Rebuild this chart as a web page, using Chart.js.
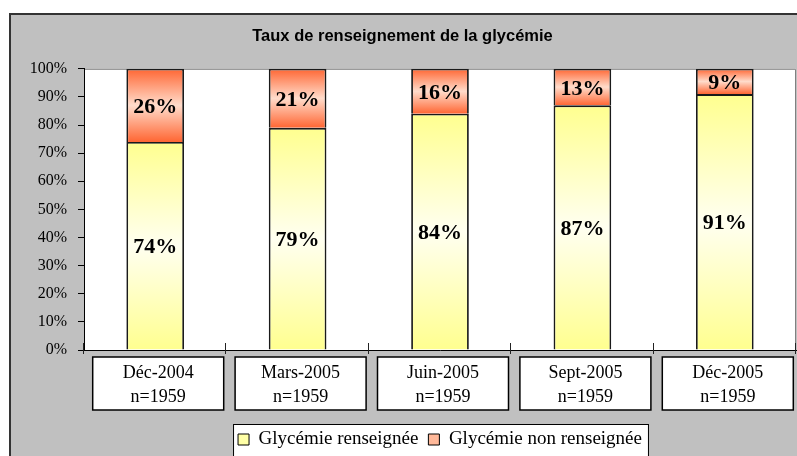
<!DOCTYPE html>
<html>
<head>
<meta charset="utf-8">
<script src="https://cdn.jsdelivr.net/npm/chart.js@4.4.1/dist/chart.umd.min.js"></script>
<style>
  html, body { margin: 0; padding: 0; background: #fff; }
  canvas { display: block; }
</style>
</head>
<body>
<canvas id="myChart" width="797" height="456"></canvas>
<script>
const titleText = 'Taux de renseignement de la glycémie';
const periods = ['Déc-2004', 'Mars-2005', 'Juin-2005', 'Sept-2005', 'Déc-2005'];
const sampleSizes = ['n=1959', 'n=1959', 'n=1959', 'n=1959', 'n=1959'];
const renseignee = [74, 79, 84, 87, 91];
const nonRenseignee = [26, 21, 16, 13, 9];
const yTickLabels = ['0%', '10%', '20%', '30%', '40%', '50%', '60%', '70%', '80%', '90%', '100%'];
const legendColors = ['#ffffa6', '#ffb899'];

// gradient per bar segment: edge colour at top and bottom, light in the middle
function segmentFill(edge, middle, legendColor) {
    return (ctx) => {
        if (ctx.type !== 'data') return legendColor;
        const chart = ctx.chart;
        const y = chart.scales.y;
        if (!chart.chartArea || !y) return legendColor;
        const i = ctx.dataIndex;
        let start = 0;
        for (let d = 0; d < ctx.datasetIndex; d++) start += chart.data.datasets[d].data[i];
        const end = start + chart.data.datasets[ctx.datasetIndex].data[i];
        const top = y.getPixelForValue(end);
        const bottom = y.getPixelForValue(start);
        if (!isFinite(top) || !isFinite(bottom)) return legendColor;
        const g = chart.ctx.createLinearGradient(0, top, 0, bottom);
        g.addColorStop(0, edge);
        g.addColorStop(0.5, middle);
        g.addColorStop(1, edge);
        return g;
    };
}

const frame = {
    id: 'frame',
    beforeDraw(chart) {
        const { ctx, chartArea: a, width, height } = chart;
        ctx.save();
        ctx.fillStyle = '#fff';
        ctx.fillRect(0, 0, width, height);
        ctx.fillStyle = '#c0c0c0';
        ctx.fillRect(9, 13, width - 9, height - 13);
        ctx.strokeStyle = '#333';
        ctx.lineWidth = 2;
        ctx.beginPath();
        ctx.moveTo(10, height);
        ctx.lineTo(10, 14);
        ctx.lineTo(width, 14);
        ctx.stroke();

        // plot area
        ctx.fillStyle = '#fff';
        ctx.fillRect(a.left, a.top, a.width, a.height);
        ctx.strokeStyle = '#808080';
        ctx.lineWidth = 1;
        ctx.beginPath();
        ctx.moveTo(a.left, a.top + 0.5);
        ctx.lineTo(a.right - 0.5, a.top + 0.5);
        ctx.lineTo(a.right - 0.5, a.bottom);
        ctx.stroke();

        // boxes behind the category labels
        const x = chart.scales.x;
        ctx.strokeStyle = '#000';
        ctx.lineWidth = 1.5;
        x.ticks.forEach((t, i) => {
            const c = x.getPixelForTick(i) + 3;
            ctx.fillStyle = '#fff';
            ctx.fillRect(c - 65.5, a.bottom + 7, 131, 53);
            ctx.strokeRect(c - 65.5, a.bottom + 7, 131, 53);
        });

        // legend box
        const boxes = chart.legend.legendHitBoxes;
        if (boxes && boxes.length) {
            const first = boxes[0];
            const last = boxes[boxes.length - 1];
            const left = first.left - 5;
            const right = last.left + last.width + 6;
            const top = first.top - 6;
            ctx.fillStyle = '#fff';
            ctx.fillRect(left, top, right - left, height - top + 5);
            ctx.lineWidth = 1;
            ctx.strokeRect(left + 0.5, top + 0.5, right - left, height - top + 5);
        }
        ctx.restore();
    },
    afterDatasetsDraw(chart) {
        const { ctx } = chart;
        ctx.save();
        ctx.font = 'bold 22px "Liberation Serif", "Times New Roman", serif';
        ctx.fillStyle = '#000';
        ctx.textAlign = 'center';
        ctx.textBaseline = 'middle';
        chart.data.datasets.forEach((ds, d) => {
            chart.getDatasetMeta(d).data.forEach((bar, i) => {
                const mid = (bar.y + bar.base) / 2;
                ctx.fillText(ds.data[i] + '%', bar.x, mid + 2);
            });
        });
        ctx.restore();
    },
    afterDraw(chart) {
        // small category separators on the x axis
        const { ctx, chartArea: a } = chart;
        const x = chart.scales.x;
        const step = a.width / x.ticks.length;
        ctx.save();
        ctx.strokeStyle = '#222';
        ctx.lineWidth = 1;
        for (let i = 0; i <= x.ticks.length; i++) {
            const px = Math.round(a.left + step * i) - 0.5;
            ctx.beginPath();
            ctx.moveTo(px, a.bottom - 7);
            ctx.lineTo(px, a.bottom + 4);
            ctx.stroke();
        }
        ctx.restore();
    }
};

const ctx = document.getElementById('myChart').getContext('2d');

new Chart(ctx, {
    type: 'bar',
    data: {
        labels: periods.map((p, i) => [p, sampleSizes[i]]),
        datasets: [
            {
                label: 'Glycémie renseignée',
                data: renseignee,
                backgroundColor: segmentFill('#ffff8f', '#fffff0', legendColors[0]),
                borderColor: '#1a1a1a',
                borderWidth: 1.8,
                borderSkipped: 'start'
            },
            {
                label: 'Glycémie non renseignée',
                data: nonRenseignee,
                backgroundColor: segmentFill('#ff6633', '#ffdccb', legendColors[1]),
                borderColor: '#1a1a1a',
                borderWidth: 1.8,
                borderSkipped: 'start'
            }
        ]
    },
    options: {
        responsive: false,
        animation: false,
        layout: { padding: { left: 9, top: 13, right: 1, bottom: -3 } },
        datasets: {
            bar: { categoryPercentage: 1, barPercentage: 0.405 }
        },
        plugins: {
            title: {
                display: true,
                text: titleText,
                color: '#000',
                font: { family: '"Liberation Sans", Arial, sans-serif', size: 16.5, weight: 'bold' },
                padding: { top: 14, bottom: 22 }
            },
            legend: {
                position: 'bottom',
                fullSize: false,
                labels: {
                    boxWidth: 11,
                    boxHeight: 11,
                    padding: 10,
                    color: '#000',
                    font: { family: '"Liberation Serif", "Times New Roman", serif', size: 19 },
                    generateLabels: (chart) => {
                        const items = Chart.defaults.plugins.legend.labels.generateLabels(chart);
                        items.forEach((item, i) => {
                            item.fillStyle = legendColors[i];
                            item.strokeStyle = '#000';
                            item.lineWidth = 1;
                        });
                        return items;
                    }
                }
            },
            tooltip: { enabled: false }
        },
        scales: {
            x: {
                stacked: true,
                grid: { display: false, drawTicks: false },
                border: { display: true, color: '#000', width: 1 },
                ticks: {
                    color: '#000',
                    font: { family: '"Liberation Serif", "Times New Roman", serif', size: 18, lineHeight: 1.333 },
                    padding: 11,
                    labelOffset: 3,
                    maxRotation: 0,
                    autoSkip: false
                },
                afterFit: (scale) => { scale.height = 70; }
            },
            y: {
                stacked: true,
                min: 0,
                max: 100,
                grid: { display: true, drawOnChartArea: false, drawTicks: true, tickLength: 6, color: '#000' },
                border: { display: true, color: '#000', width: 1 },
                ticks: {
                    stepSize: 10,
                    color: '#000',
                    padding: 11,
                    font: { family: '"Liberation Serif", "Times New Roman", serif', size: 16 },
                    callback: (v, i) => yTickLabels[i]
                },
                afterFit: (scale) => { scale.width = 75; }
            }
        }
    },
    plugins: [frame]
});
</script>
</body>
</html>
